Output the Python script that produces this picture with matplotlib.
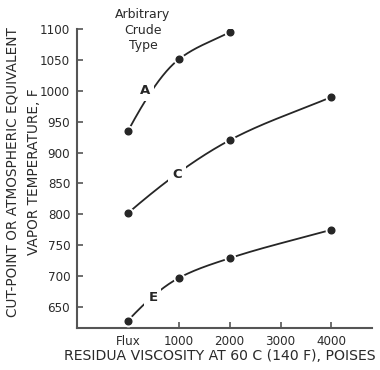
import numpy as np
import matplotlib
matplotlib.use("Agg")
import matplotlib.pyplot as plt

plt.rcParams["font.family"] = ["DejaVu Sans"]

# viscosity in poises ("Flux" plotted at 0)
visc_ticks = [0, 1000, 2000, 3000, 4000]
visc_labels = ["Flux", "1000", "2000", "3000", "4000"]
temp_ticks = [650, 700, 750, 800, 850, 900, 950, 1000, 1050, 1100]

crude_names = ["A", "C", "E"]
visc_a = [0, 1000, 2000]
temp_a = [935, 1051, 1095]
visc_c = [0, 2000, 4000]
temp_c = [802, 920, 990]
visc_e = [0, 1000, 2000, 4000]
temp_e = [628, 697, 729, 775]


def smooth_curve(x, y, xx):
    # monotone cubic Hermite curve through the measured points
    h = np.diff(x)
    d = np.diff(y) / h
    m = np.zeros_like(y)
    for k in range(1, len(x) - 1):
        if d[k - 1] * d[k] > 0:
            w1, w2 = 2 * h[k] + h[k - 1], h[k] + 2 * h[k - 1]
            m[k] = (w1 + w2) / (w1 / d[k - 1] + w2 / d[k])
    m[0] = ((2 * h[0] + h[1]) * d[0] - h[0] * d[1]) / (h[0] + h[1])
    m[-1] = d[-1]
    i = np.clip(np.searchsorted(x, xx) - 1, 0, len(x) - 2)
    t = (xx - x[i]) / h[i]
    h00 = 2 * t**3 - 3 * t**2 + 1
    h10 = t**3 - 2 * t**2 + t
    h01 = -2 * t**3 + 3 * t**2
    h11 = t**3 - t**2
    return h00 * y[i] + h10 * h[i] * m[i] + h01 * y[i + 1] + h11 * h[i] * m[i + 1]


ink = "#262626"
txt = "#2a2a2a"
fig = plt.figure(figsize=(3.8, 3.7), dpi=100)
ax = fig.add_axes([0.203, 0.1135, 0.776, 0.808])

series = [(visc_a, temp_a, (330, 1000)),
          (visc_c, temp_c, (960, 864)),
          (visc_e, temp_e, (490, 666))]
for name, (xs, ys, lab) in zip(crude_names, series):
    xs = np.asarray(xs, float); ys = np.asarray(ys, float)
    xx = np.linspace(xs.min(), xs.max(), 300)
    ax.plot(xx, smooth_curve(xs, ys, xx), color=ink, lw=1.3, zorder=2)
    ax.plot(xs, ys, "o", ms=7.5, color="white", zorder=3)
    ax.plot(xs, ys, "o", ms=4.8, color=ink, zorder=4)
    ax.text(lab[0], lab[1], name, ha="center", va="center", fontsize=9.5,
            fontweight="bold", color=ink, zorder=5,
            bbox=dict(boxstyle="square,pad=0.3", fc="white", ec="none"))

ax.text(294, 1098, "Arbitrary\nCrude\nType", ha="center", va="center",
        fontsize=9, color=txt, linespacing=1.25, clip_on=False)

ax.set_xlim(-1000, 4800)
ax.set_ylim(616, 1100)
ax.set_xticks(visc_ticks)
ax.set_xticklabels(visc_labels)
ax.set_yticks(temp_ticks)
ax.tick_params(direction="in", length=4, width=1.2, color="#555555",
               labelsize=8.6, labelcolor=txt, pad=5)
for side in ("top", "right"):
    ax.spines[side].set_visible(False)
for side in ("left", "bottom"):
    ax.spines[side].set_color("#555555")
    ax.spines[side].set_linewidth(1.5)

fig.text(0.579, 0.038, "RESIDUA VISCOSITY AT 60 C (140 F), POISES",
         ha="center", va="center", fontsize=10.1, color=txt)
fig.text(0.062, 0.535, "CUT-POINT OR ATMOSPHERIC EQUIVALENT\nVAPOR TEMPERATURE, F",
         ha="center", va="center", rotation=90, fontsize=9.8, color=txt,
         linespacing=1.65)

fig.savefig("out.png", dpi=100)
